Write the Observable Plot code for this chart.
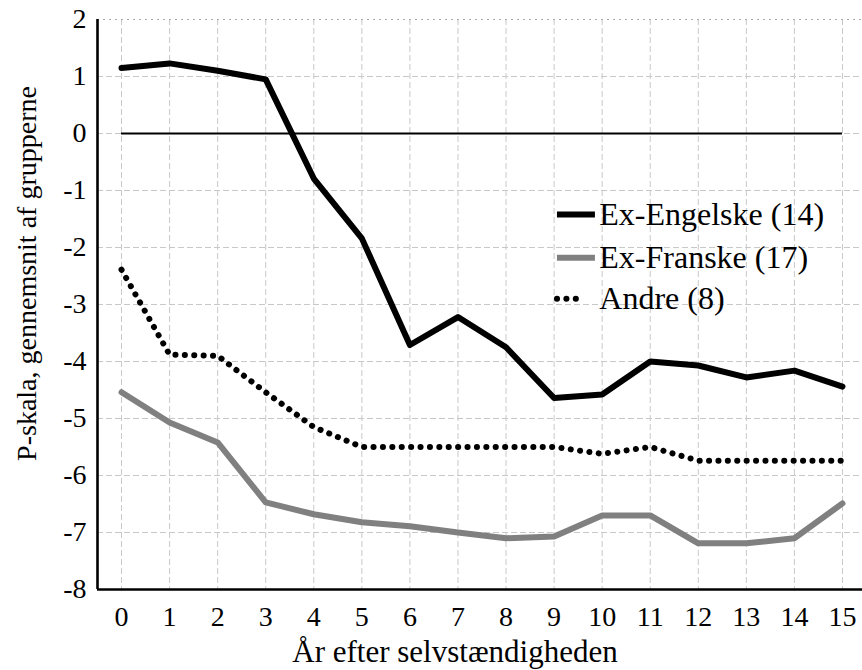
<!DOCTYPE html>
<html>
<head>
<meta charset="utf-8">
<script src="https://cdn.jsdelivr.net/npm/d3@7"></script>
<script src="https://cdn.jsdelivr.net/npm/@observablehq/plot@0.6"></script>
<style>
  html, body { margin: 0; padding: 0; background: #fff; }
  #chart { width: 862px; height: 670px; overflow: hidden; }
</style>
</head>
<body>
<div id="chart"></div>
<script>
// ---- data ----
const years = [0, 1, 2, 3, 4, 5, 6, 7, 8, 9, 10, 11, 12, 13, 14, 15];
const exEngelske = [1.15, 1.23, 1.1, 0.95, -0.79, -1.84, -3.71, -3.22, -3.75, -4.64, -4.58, -4.0, -4.07, -4.28, -4.16, -4.44];
const exFranske = [-4.54, -5.07, -5.42, -6.47, -6.68, -6.82, -6.89, -7.0, -7.1, -7.07, -6.7, -6.7, -7.19, -7.19, -7.1, -6.49];
const andre = [-2.39, -3.88, -3.9, -4.54, -5.15, -5.5, -5.5, -5.5, -5.5, -5.5, -5.62, -5.5, -5.74, -5.74, -5.74, -5.74];
const seriesNames = ["Ex-Engelske (14)", "Ex-Franske (17)", "Andre (8)"];
const yTicks = [-8, -7, -6, -5, -4, -3, -2, -1, 0, 1, 2];
const xTicks = years;
const xLabel = "År efter selvstændigheden";
const yLabel = "P-skala, gennemsnit af grupperne";
const legendY = [-1.42, -2.18, -2.9];

// ---- tables ----
const toRows = (vals, name) => years.map((x, i) => ({x, y: vals[i], name}));
const rowsE = toRows(exEngelske, seriesNames[0]);
const rowsF = toRows(exFranske, seriesNames[1]);
const rowsA = toRows(andre, seriesNames[2]);
const legend = seriesNames.map((label, i) => ({label, y: legendY[i]}));
const zeroLine = [{x1: years[0], x2: years[years.length - 1], y: 0}];

const FONT = "Liberation Serif, Times New Roman, serif";

const chart = Plot.plot({
  width: 862,
  height: 670,
  marginTop: 19,
  marginBottom: 81,
  marginLeft: 97,
  marginRight: 0,
  style: {fontFamily: FONT, fontSize: "28px", background: "#fff", color: "#000", overflow: "hidden"},
  x: {domain: [-0.5, 15.5], range: [97, 866], ticks: xTicks, tickSize: 0, tickPadding: 17, tickFormat: d => String(d), label: null},
  y: {domain: [-8, 2], ticks: yTicks, tickSize: 0, tickPadding: 11, tickFormat: d => String(d), label: null},
  marks: [
    Plot.gridX(xTicks, {stroke: "#c8c8c8", strokeOpacity: 1, strokeWidth: 1, strokeDasharray: "6,3"}),
    Plot.gridY(yTicks.filter(d => d > -8 && d < 2), {stroke: "#c8c8c8", strokeOpacity: 1, strokeWidth: 1, strokeDasharray: "6,3"}),
    Plot.gridY([2], {stroke: "#a8a8a8", strokeOpacity: 1, strokeWidth: 1, strokeDasharray: "2,4"}),
    Plot.ruleX([-0.5], {stroke: "#000", strokeWidth: 2.6}),
    Plot.ruleY([-8], {stroke: "#000", strokeWidth: 2.6}),
    Plot.ruleY(zeroLine, {x1: "x1", x2: "x2", y: "y", stroke: "#000", strokeWidth: 2}),
    Plot.line(rowsF, {x: "x", y: "y", stroke: "#808080", strokeWidth: 6, strokeLinejoin: "round"}),
    Plot.line(rowsA, {x: "x", y: "y", stroke: "#000", strokeWidth: 6, strokeDasharray: "0.1,9.3", strokeLinecap: "round"}),
    Plot.line(rowsE, {x: "x", y: "y", stroke: "#000", strokeWidth: 6, strokeLinejoin: "round"}),
    // legend
    Plot.ruleY(legend.slice(0, 1), {x1: 9.07, x2: 9.86, y: "y", stroke: "#000", strokeWidth: 6}),
    Plot.ruleY(legend.slice(1, 2), {x1: 9.07, x2: 9.86, y: "y", stroke: "#808080", strokeWidth: 6}),
    Plot.ruleY(legend.slice(2, 3), {x1: 9.07, x2: 9.55, y: "y", stroke: "#000", strokeWidth: 6, strokeDasharray: "0.1,9.3", strokeLinecap: "round"}),
    Plot.text(legend, {x: 9.94, y: "y", text: "label", textAnchor: "start", fontSize: 32, fill: "#000"}),
    // axis titles
    Plot.text([xLabel], {frameAnchor: "bottom", text: d => d, textAnchor: "middle", lineAnchor: "middle", dx: -25, dy: 63, fontSize: 31, fill: "#000"}),
    Plot.text([yLabel], {frameAnchor: "left", text: d => d, textAnchor: "middle", lineAnchor: "middle", rotate: -90, dx: -70, dy: -31, fontSize: 28, fill: "#000"})
  ]
});
document.getElementById("chart").appendChild(chart);
</script>
</body>
</html>
